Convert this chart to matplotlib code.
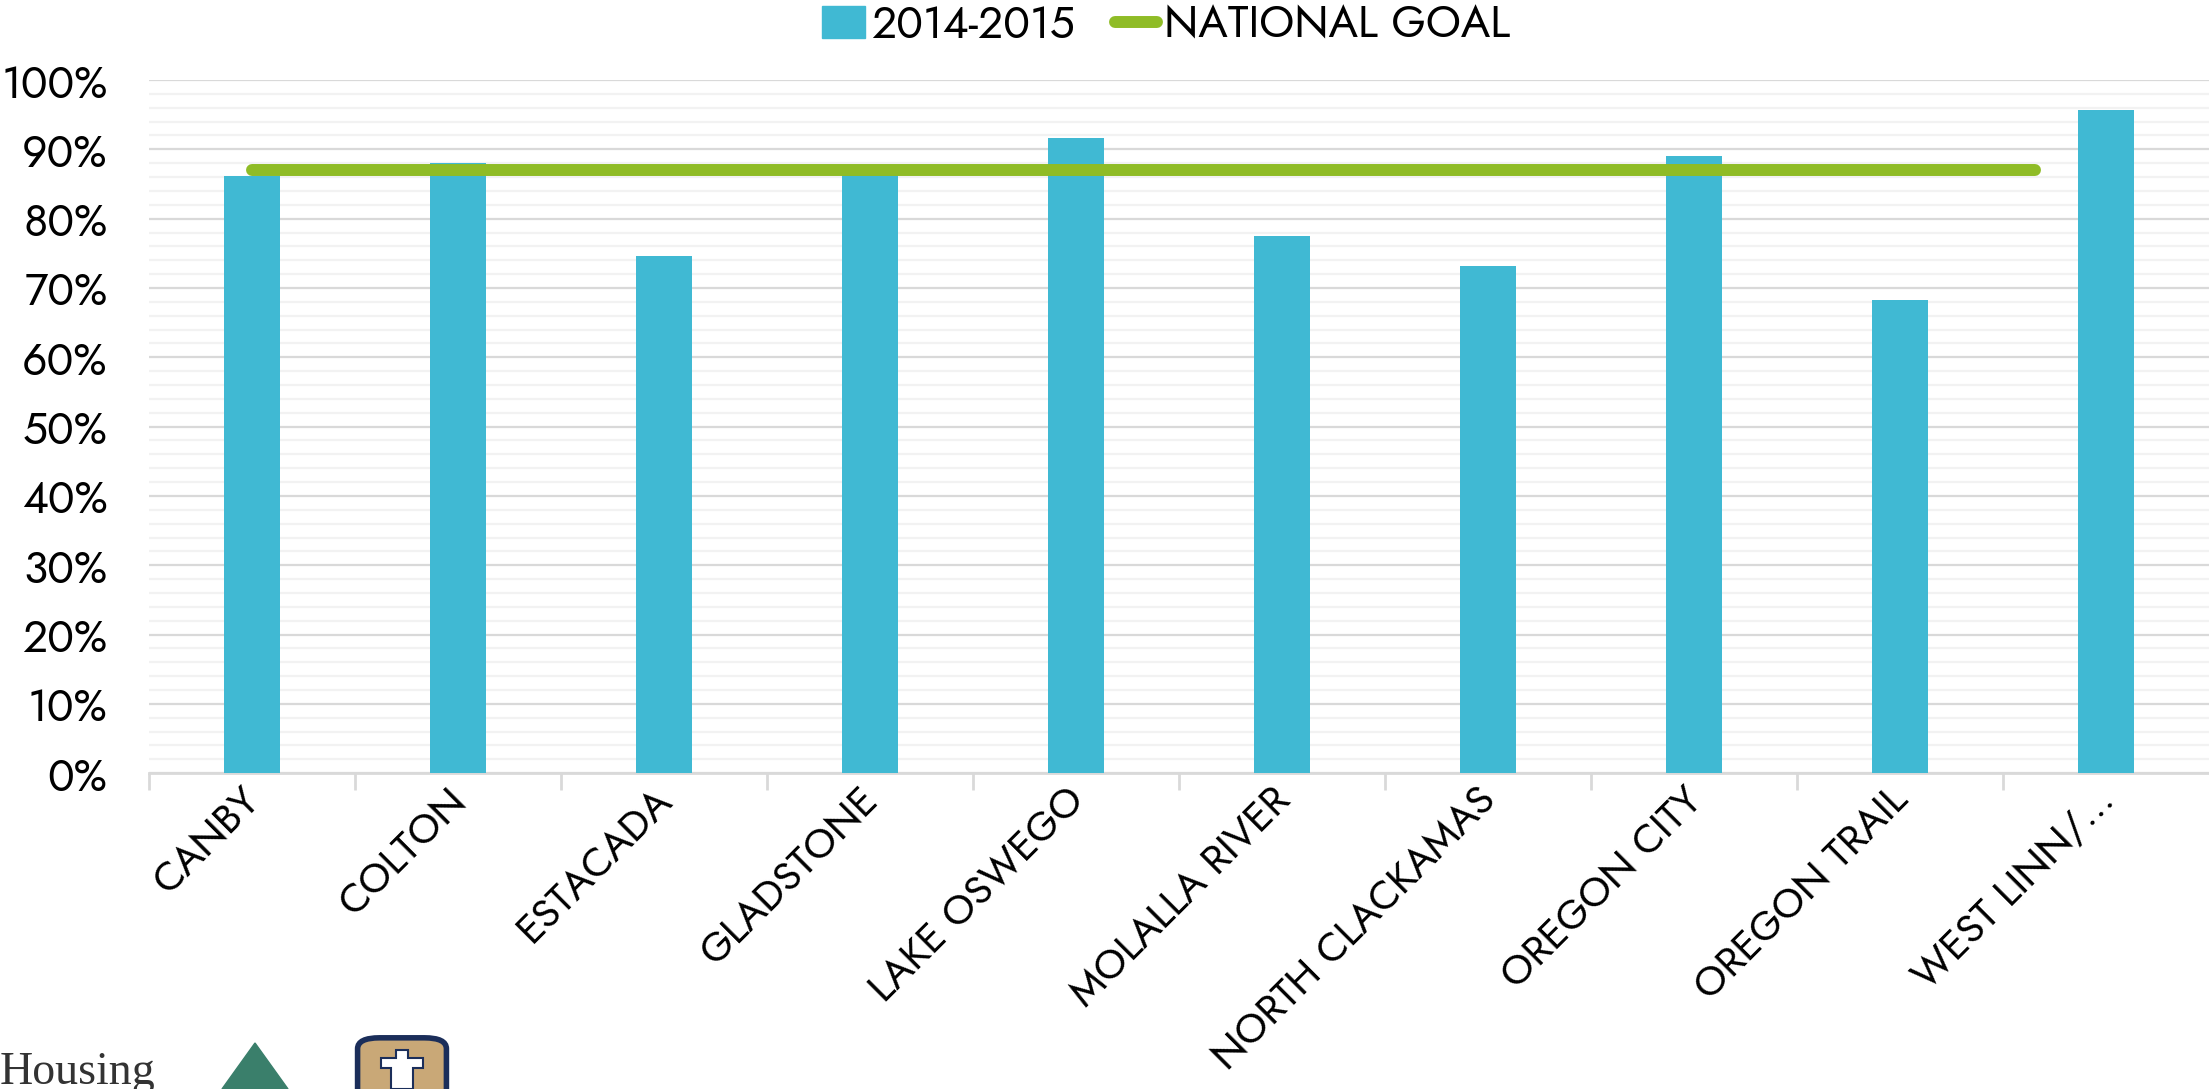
import matplotlib
matplotlib.use("Agg")
import matplotlib.pyplot as plt
import matplotlib.transforms as mtransforms
import numpy as np
from matplotlib.patches import Patch, Polygon, FancyBboxPatch
from matplotlib.lines import Line2D
from matplotlib.ticker import MultipleLocator, PercentFormatter

plt.rcParams['font.family'] = ['Jost', 'Liberation Sans', 'DejaVu Sans']
plt.rcParams['font.weight'] = 'light'

districts = ['CANBY', 'COLTON', 'ESTACADA', 'GLADSTONE', 'LAKE OSWEGO',
             'MOLALLA RIVER', 'NORTH CLACKAMAS', 'OREGON CITY', 'OREGON TRAIL',
             'WEST LINN/\u2026']
rate_2014_2015 = [0.861, 0.880, 0.746, 0.875, 0.917, 0.775, 0.732, 0.890, 0.683, 0.957]
national_goal = [0.87] * 10

bar_color = '#40b9d3'
goal_color = '#8fbc26'

fig = plt.figure(figsize=(22.09, 10.89), dpi=100)
ax = fig.add_axes([0.0675, 0.290, 0.9325, 0.6365])

x = np.arange(len(districts))
ax.bar(x, rate_2014_2015, width=0.27, color=bar_color, zorder=3)
ax.set_xlim(-0.5, len(districts) - 0.5)
ax.set_ylim(0, 1)

# goal series sits on its own (secondary) category scale
ax2 = ax.twiny()
ax2.plot(x, national_goal, color=goal_color, lw=8.6, solid_capstyle='round', zorder=4)
ax2.set_xlim(-0.52, 9.88)
ax2.set_ylim(0, 1)
ax2.axis('off')

ax.yaxis.set_major_locator(MultipleLocator(0.1))
ax.yaxis.set_minor_locator(MultipleLocator(0.02))
ax.yaxis.set_major_formatter(PercentFormatter(1.0, decimals=0))
ax.grid(axis='y', which='major', color='#d9d9d9', lw=1.6, zorder=0)
ax.grid(axis='y', which='minor', color='#f2f2f2', lw=1.6, zorder=0)
ax.set_axisbelow(True)

for s in ['left', 'right', 'top']:
    ax.spines[s].set_visible(False)
ax.spines['bottom'].set_color('#d9d9d9')
ax.spines['bottom'].set_linewidth(2)

ax.tick_params(axis='y', which='both', length=0, labelsize=32, pad=30)
ax.set_xticks(x - 0.5, minor=True)
ax.tick_params(axis='x', which='minor', length=12, width=2, color='#d9d9d9', direction='out')
ax.set_xticks(x)
ax.set_xticklabels(districts, rotation=45, ha='right', va='center',
                   rotation_mode='anchor', fontsize=29.5)
ax.tick_params(axis='x', which='major', length=0, pad=15)
shift = mtransforms.ScaledTranslation(0.02, 0, fig.dpi_scale_trans)
for lbl in ax.get_xticklabels():
    lbl.set_transform(lbl.get_transform() + shift)

handles = [Patch(color=bar_color, label='2014-2015'),
           Line2D([0], [0], color=goal_color, lw=8.6, solid_capstyle='round', label='NATIONAL GOAL')]
fig.legend(handles=handles, loc='center', bbox_to_anchor=(0.528, 0.977), ncol=2,
           frameon=False, fontsize=32, handlelength=0.95, handleheight=0.75,
           handletextpad=0.15, columnspacing=0.9, borderaxespad=0)

# partial footer logos
fig.text(0.0, -0.005, 'Housing', fontsize=33, family=['Liberation Serif', 'DejaVu Serif'],
         weight='normal', color='#333333', ha='left', va='bottom')
fig.add_artist(Polygon([[255 / 2209, 1 - 1043 / 1089], [222 / 2209, 0.0], [288 / 2209, 0.0]],
                       closed=True, transform=fig.transFigure, color='#3a7f6b'))
fig.add_artist(FancyBboxPatch((362 / 2209, -0.03), 80 / 2209, 0.075,
                              boxstyle='round,pad=0.002,rounding_size=0.01',
                              transform=fig.transFigure, facecolor='#c9a877',
                              edgecolor='#1b2e5a', lw=4))
cross = [[391, 1089], [391, 1068], [381, 1068], [381, 1058], [396, 1058], [396, 1050],
         [408, 1050], [408, 1058], [423, 1058], [423, 1068], [413, 1068], [413, 1089]]
fig.add_artist(Polygon([[px / 2209, 1 - py / 1089] for px, py in cross], closed=True,
                       transform=fig.transFigure, facecolor='white', edgecolor='#1b2e5a', lw=1.5))

fig.savefig('out.png', dpi=100)
